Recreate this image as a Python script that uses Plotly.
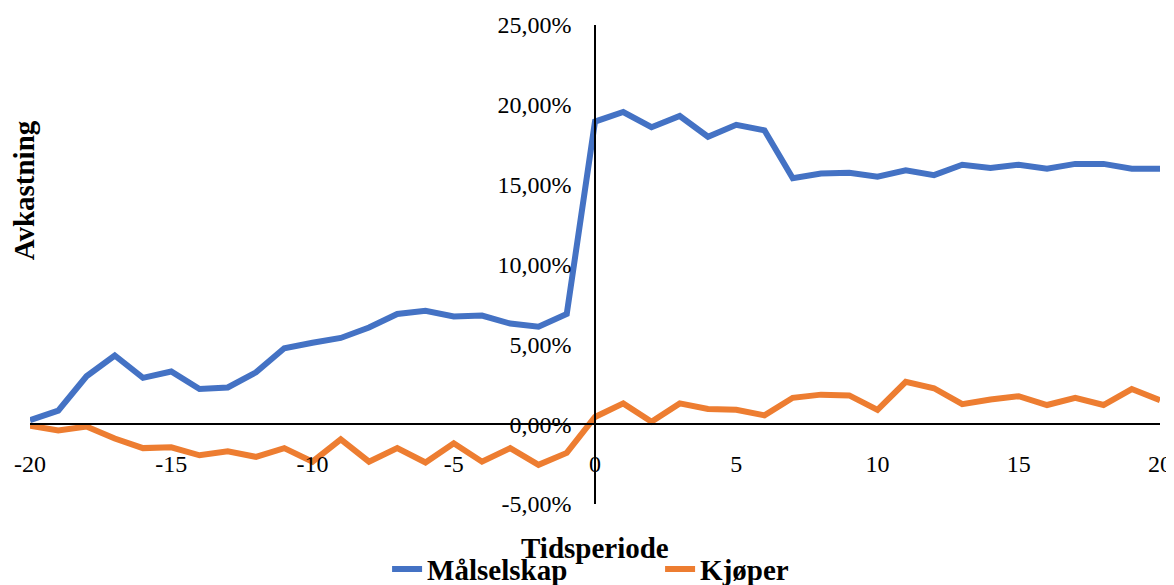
import plotly.graph_objects as go

periods = list(range(-20, 21))
malselskap = [0.25, 0.85, 3.0, 4.3, 2.9, 3.3, 2.2, 2.3, 3.25, 4.75, 5.1, 5.4, 6.05, 6.9, 7.1, 6.75, 6.8, 6.3, 6.1, 6.9,
              18.95, 19.55, 18.6, 19.3, 18.0, 18.75, 18.4, 15.4, 15.7, 15.75, 15.5, 15.9, 15.6, 16.25, 16.05, 16.25,
              16.0, 16.3, 16.3, 16.0, 16.0]
kjoper = [-0.1, -0.4, -0.15, -0.9, -1.5, -1.45, -1.95, -1.7, -2.05, -1.5, -2.35, -0.95, -2.35, -1.5, -2.4, -1.2,
          -2.35, -1.5, -2.55, -1.8, 0.45, 1.3, 0.15, 1.3, 0.95, 0.9, 0.55, 1.65, 1.85, 1.8, 0.9, 2.65, 2.25, 1.25,
          1.55, 1.75, 1.2, 1.65, 1.2, 2.2, 1.5]
y_ticks = [-5, 0, 5, 10, 15, 20, 25]
y_ticklabels = ["-5,00%", "0,00%", "5,00%", "10,00%", "15,00%", "20,00%", "25,00%"]
x_ticks = [-20, -15, -10, -5, 0, 5, 10, 15, 20]
x_ticklabels = ["-20", "-15", "-10", "-5", "0", "5", "10", "15", "20"]

FONT = "Times New Roman, Liberation Serif, DejaVu Serif, serif"

fig = go.Figure()
fig.add_trace(go.Scatter(x=periods, y=malselskap, mode="lines", name="Målselskap",
                         line=dict(color="#4472C4", width=6)))
fig.add_trace(go.Scatter(x=periods, y=kjoper, mode="lines", name="Kjøper",
                         line=dict(color="#ED7D31", width=6)))

fig.update_layout(
    width=1166, height=577,
    margin=dict(l=22, r=14, t=17, b=81, autoexpand=False),
    plot_bgcolor="white", paper_bgcolor="white",
    font=dict(family=FONT, size=24, color="black"),
    showlegend=True,
    legend=dict(orientation="h", x=0.316, xanchor="left", y=-0.136, yanchor="middle",
                entrywidth=228, entrywidthmode="pixels",
                font=dict(family=FONT, size=29, color="black", weight="bold"),
                bgcolor="rgba(0,0,0,0)"),
    xaxis=dict(range=[-20, 20], tickvals=x_ticks, ticktext=x_ticklabels,
               showgrid=False, zeroline=False, automargin=False,
               showline=True, linecolor="black", linewidth=1.5,
               anchor="free", position=1/6,
               ticks="outside", ticklen=18, tickcolor="rgba(0,0,0,0)",
               tickfont=dict(family=FONT, size=24, color="black")),
    yaxis=dict(range=[-5, 25], tickvals=y_ticks, ticktext=y_ticklabels,
               showgrid=False, zeroline=False, automargin=False,
               showline=True, linecolor="black", linewidth=1.5,
               anchor="free", position=0.5,
               ticks="", ticklabelstandoff=18,
               tickfont=dict(family=FONT, size=24, color="black")),
    annotations=[
        dict(text="Avkastning", xref="paper", yref="paper", x=-0.005, y=0.6555,
             xanchor="center", yanchor="middle", textangle=-90, showarrow=False,
             font=dict(family=FONT, size=29, color="black", weight="bold")),
        dict(text="Tidsperiode", xref="paper", yref="paper", x=0.5, y=-0.092,
             xanchor="center", yanchor="middle", showarrow=False,
             font=dict(family=FONT, size=29, color="black", weight="bold")),
    ],
)

fig.write_html("out.html")
